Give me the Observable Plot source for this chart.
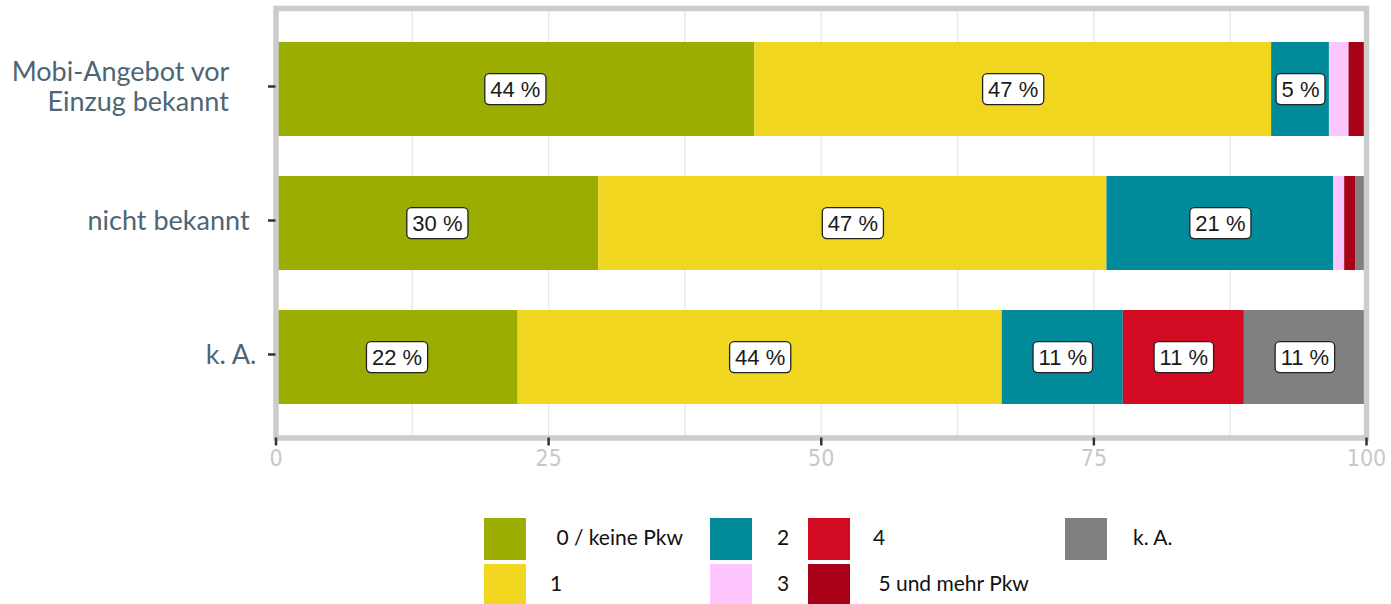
<!DOCTYPE html>
<html>
<head>
<meta charset="utf-8">
<script src="https://cdn.jsdelivr.net/npm/d3@7"></script>
<script src="https://cdn.jsdelivr.net/npm/@observablehq/plot@0.6"></script>
<style>
  html, body { margin: 0; padding: 0; background: #ffffff; }
  #chart { width: 1391px; height: 480px; }
  #legend { position: relative; width: 1391px; height: 124px; font-family: Lato, "Open Sans", sans-serif; font-size: 21px; color: #111111; }
  .key { position: absolute; width: 42px; height: 42px; }
  .lab { position: absolute; height: 42px; line-height: 42px; white-space: pre; }
</style>
</head>
<body>
<div id="chart"></div>
<div id="legend"></div>
<script>
// ---- data ----
const groups = ["Mobi-Angebot vor Einzug bekannt", "nicht bekannt", "k. A."];
const groupLabels = [
  "Mobi-Angebot vor\u00a0\u00a0\u00a0\u00a0\nEinzug bekannt\u00a0\u00a0\u00a0\u00a0",
  "nicht bekannt\u00a0",
  "k. A."
];
const categories = ["0 / keine Pkw", "1", "2", "3", "4", "5 und mehr Pkw", "k. A."];
const legendLabels = [" 0 / keine Pkw", "1", "2", "3", "4", " 5 und mehr Pkw", "k. A."];
const colors = ["#9aad00", "#f0d61e", "#008a9a", "#fdc6fd", "#d20b23", "#a80016", "#808080"];
const valuesMobi  = [43.9, 47.4, 5.3, 1.8, 0, 1.6, 0];
const valuesNicht = [29.6, 46.6, 20.8, 1.0, 0, 1.0, 1.0];
const valuesKA    = [22.2, 44.4, 11.1, 0, 11.1, 0, 11.1];
const xTicks = [0, 25, 50, 75, 100];
const gridTicks = [12.5, 25, 37.5, 50, 62.5, 75, 87.5];
const legendColumns = [[0, 1], [2, 3], [4, 5], [6]];

const series = [valuesMobi, valuesNicht, valuesKA];
const data = [];
groups.forEach((g, gi) => categories.forEach((c, ci) => data.push({group: g, cat: c, value: series[gi][ci]})));

const chart = Plot.plot({
  width: 1391,
  height: 480,
  marginLeft: 275.5,
  marginRight: 25,
  marginTop: 8,
  marginBottom: 42.5,
  style: {background: "#ffffff"},
  x: {domain: [0, 100]},
  y: {domain: groups, paddingInner: 0.3, paddingOuter: 0.25},
  color: {domain: categories, range: colors},
  marks: [
    Plot.ruleX(gridTicks, {stroke: "#ebebeb", strokeWidth: 1.6}),
    Plot.barX(data, Plot.stackX({x: "value", y: "group", fill: "cat"})),
    Plot.text(data, Plot.stackX({
      x: "value", y: "group",
      text: d => d.value >= 5 ? `${Math.round(d.value)} %` : null,
      fontSize: 22, fontFamily: "'Liberation Sans', Arial, sans-serif",
      fill: "#1a1a1a"
    })),
    Plot.frame({stroke: "#cccccc", strokeWidth: 5.5}),
    Plot.axisX({
      ticks: xTicks, tickSize: 8, tickPadding: 4, strokeWidth: 2.5,
      stroke: "#333333", fill: "#c8c8c8", label: null,
      fontSize: 23, fontFamily: "'DejaVu Sans Condensed', 'Liberation Sans Narrow', 'DejaVu Sans', sans-serif"
    }),
    Plot.axisY({
      tickSize: 7.5, tickPadding: 12, strokeWidth: 2.5,
      stroke: "#333333", fill: "#4d6574", label: null,
      tickFormat: d => groupLabels[groups.indexOf(d)],
      fontSize: 27, lineHeight: 1.1, dy: -3, fontFamily: "Lato, 'Open Sans', sans-serif"
    })
  ]
});
document.getElementById("chart").append(chart);

function addBoxes() {
  chart.querySelectorAll('g[aria-label="text"] text').forEach(t => {
    const bb = t.getBBox();
    const r = document.createElementNS("http://www.w3.org/2000/svg", "rect");
    const padX = 5.5, h = 31;
    r.setAttribute("x", bb.x - padX);
    r.setAttribute("width", bb.width + 2 * padX);
    r.setAttribute("y", bb.y + bb.height / 2 - h / 2);
    r.setAttribute("height", h);
    r.setAttribute("rx", 4.5);
    r.setAttribute("fill", "#ffffff");
    r.setAttribute("stroke", "#222222");
    r.setAttribute("stroke-width", 1.3);
    const tr = t.getAttribute("transform");
    if (tr) r.setAttribute("transform", tr);
    t.parentNode.insertBefore(r, t);
  });
}
addBoxes();

// ---- legend ----
const legend = d3.select("#legend");
const colLeft = [484, 710, 808, 1065];
const labelGap = [66, 67, 65, 68];
const rowTop = [38, 84];
legendColumns.forEach((col, ci) => {
  col.forEach((k, ri) => {
    legend.append("div").attr("class", "key")
      .style("left", colLeft[ci] + "px").style("top", rowTop[ri] + "px")
      .style("background", colors[k]);
    legend.append("div").attr("class", "lab")
      .style("left", (colLeft[ci] + labelGap[ci] + (ri === 0 && ci === 0 ? 1 : 0)) + "px").style("top", (rowTop[ri] - 2) + "px")
      .text(legendLabels[k]);
  });
});
</script>
</body>
</html>
